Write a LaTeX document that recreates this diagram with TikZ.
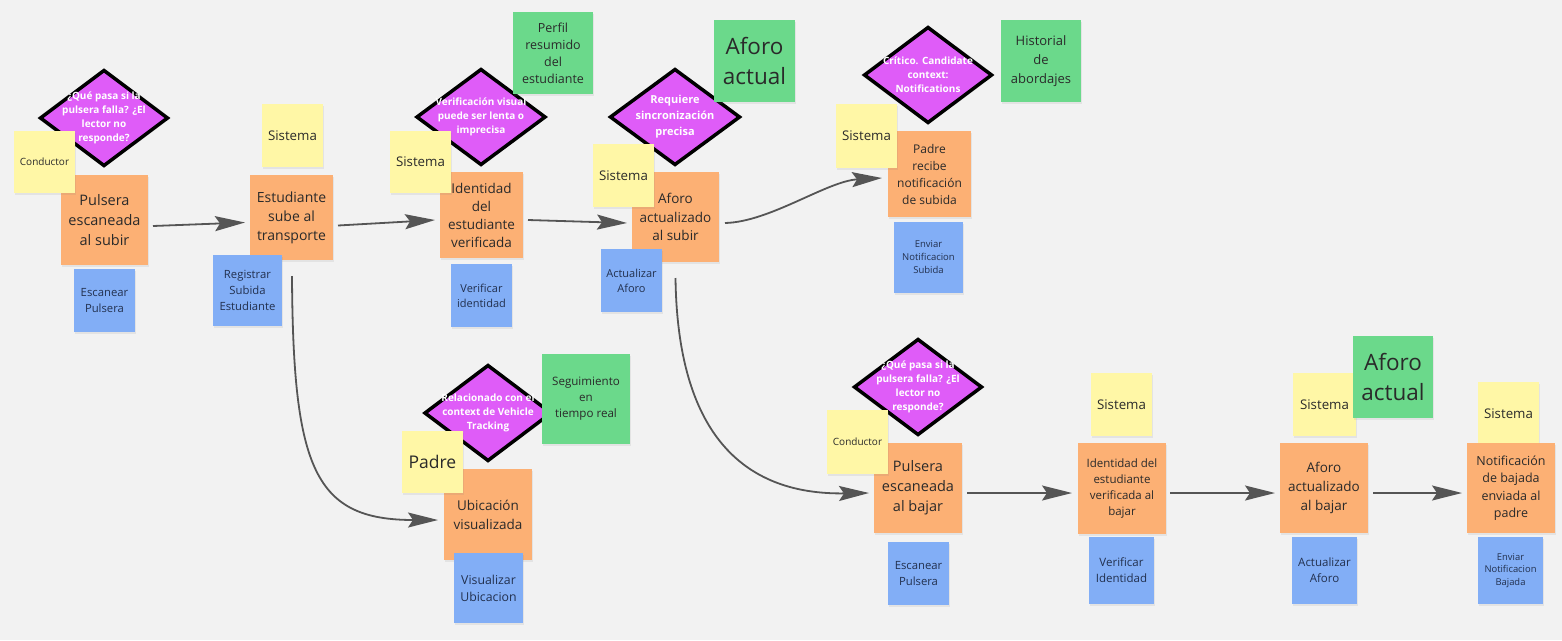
\documentclass[tikz,border=0pt]{standalone}
\usepackage{fontspec}
\setmainfont{Open Sans}
\usetikzlibrary{arrows.meta,shapes.geometric,shadows,calc}
\definecolor{bgc}{HTML}{F2F2F2}
\definecolor{orn}{HTML}{FCB074}
\definecolor{yel}{HTML}{FFF7A6}
\definecolor{blu}{HTML}{82AEF6}
\definecolor{grn}{HTML}{6BD98B}
\definecolor{mag}{HTML}{DF5CF8}
\definecolor{txt}{HTML}{2A2A2A}
\definecolor{btxt}{HTML}{22304E}
\definecolor{arr}{HTML}{555555}
\tikzset{
  note/.style={rectangle, inner sep=1pt, outer sep=0pt, align=center,
    drop shadow={shadow xshift=0.6pt, shadow yshift=-1.6pt, opacity=0.13}},
  org/.style={note, fill=orn, text=txt},
  yl/.style={note, fill=yel, text=txt},
  bl/.style={note, fill=blu, text=btxt},
  gr/.style={note, fill=grn, text=txt},
  sz/.style 2 args={minimum width=#1, minimum height=#2},
  fs/.style 2 args={font=\fontsize{#1}{#2}\selectfont},
  dia/.style={diamond, draw=black, line width=3.5pt, fill=mag, inner sep=0pt,
    outer sep=0pt, minimum width=127, minimum height=95},
  dtext/.style={text=white, align=center, inner sep=0pt,
    font=\bfseries\fontsize{10}{14}\selectfont},
  conn/.style={draw=arr, line width=1.8pt,
    -{Stealth[length=30pt,width=15pt,inset=5pt]}}
}
\begin{document}
\begin{tikzpicture}[x=1pt,y=-1pt]
\path[use as bounding box, fill=bgc] (0,0) rectangle (1562,640);

% diamonds
\node[dia] (d1) at (104,118) {};
\node[dtext] (d1t) at (d1) {¿Qué pasa si la\\pulsera falla? ¿El\\lector no\\responde?};
\node[dia, minimum width=128] (d2) at (481,117) {};
\node[dtext] (d2t) at (d2) {Verificación visual\\puede ser lenta o\\imprecisa};
\node[dia, minimum width=129] (d3) at (675,117) {};
\node[dtext, font=\bfseries\fontsize{11}{16}\selectfont] (d3t) at (d3) {Requiere\\sincronización\\precisa};
\node[dia] (d4) at (928,75) {};
\node[dtext] (d4t) at (d4) {Crítico. Candidate\\context:\\Notifications};
\node[dia, minimum width=126] (d5) at (488,413) {};
\node[dtext] (d5t) at (d5) {Relacionado con el\\context de Vehicle\\Tracking};
\node[dia] (d6) at (918,387) {};
\node[dtext] (d6t) at (d6) {¿Qué pasa si la\\pulsera falla? ¿El\\lector no\\responde?};

% orange events
\node[org, sz={87}{90}, fs={14.5}{20}] (p1) at (104.5,220) {Pulsera\\escaneada\\al subir};
\node[org, sz={83}{85}, fs={14}{19}] (e1) at (291.5,217.5) {Estudiante\\sube al\\transporte};
\node[org, sz={83}{86}, fs={13.5}{18}] (id1) at (481.5,215) {Identidad\\del\\estudiante\\verificada};
\node[org, sz={87}{90}, fs={13.5}{18.5}] (af1) at (675.5,217) {Aforo\\actualizado\\al subir};
\node[org, sz={83}{86}, fs={12}{17}] (pr1) at (929.5,174) {Padre\\recibe\\notificación\\de subida};
\node[org, sz={88}{91}, fs={13.5}{19}] (ub) at (488,514.5) {Ubicación\\visualizada};
\node[org, sz={88}{90}, fs={14.5}{20}] (p2) at (918,488) {Pulsera\\escaneada\\al bajar};
\node[org, sz={88}{91}, fs={11.5}{16}] (id2) at (1122,488.5) {Identidad del\\estudiante\\verificada al\\bajar};
\node[org, sz={88}{90}, fs={13.5}{19}] (af2) at (1324,488) {Aforo\\actualizado\\al bajar};
\node[yl, sz={61}{63}, fs={13.3}{17}] (y10) at (1508.5,413.5) {Sistema};
\node[org, sz={88}{90}, fs={12.5}{17.5}] (nt2) at (1511,488) {Notificación\\de bajada\\enviada al\\padre};

% yellow actors
\node[yl, sz={61}{62}, fs={10}{13}] (y1) at (44.5,162) {Conductor};
\node[yl, sz={61}{63}, fs={13.3}{17}] (y2) at (292.5,135.5) {Sistema};
\node[yl, sz={61}{62}, fs={13.3}{17}] (y3) at (420.5,162) {Sistema};
\node[yl, sz={61}{63}, fs={13.3}{17}] (y4) at (623.5,175.5) {Sistema};
\node[yl, sz={61}{64}, fs={13.3}{17}] (y5) at (866.5,136) {Sistema};
\node[yl, sz={61}{62}, fs={17.5}{22}] (y6) at (432.5,462) {Padre};
\node[yl, sz={61}{64}, fs={10}{13}] (y7) at (857.5,442) {Conductor};
\node[yl, sz={61}{63}, fs={13.3}{17}] (y8) at (1121.5,404.5) {Sistema};
\node[yl, sz={63}{63}, fs={13.3}{17}] (y9) at (1324.5,404.5) {Sistema};

% blue commands
\node[bl, sz={61}{63}, fs={11.3}{16}] (b1) at (104.5,300.5) {Escanear\\Pulsera};
\node[bl, sz={69}{71}, fs={11.3}{16}] (b2) at (247.5,290.5) {Registrar\\Subida\\Estudiante};
\node[bl, sz={61}{63}, fs={11}{15}] (b3) at (481.5,295.5) {Verificar\\identidad};
\node[bl, sz={61}{63}, fs={11}{15}] (b4) at (631.5,280.5) {Actualizar\\Aforo};
\node[bl, sz={69}{71}, fs={9.5}{13}] (b5) at (928.5,257.5) {Enviar\\Notificacion\\Subida};
\node[bl, sz={69}{70}, fs={12.3}{17}] (b6) at (488.5,588) {Visualizar\\Ubicacion};
\node[bl, sz={61}{63}, fs={11.3}{16}] (b7) at (918.5,573.5) {Escanear\\Pulsera};
\node[bl, sz={65}{67}, fs={11.5}{16}] (b8) at (1121.5,570.5) {Verificar\\Identidad};
\node[bl, sz={65}{67}, fs={11.5}{16}] (b9) at (1324.5,570.5) {Actualizar\\Aforo};
\node[bl, sz={65}{67}, fs={9.4}{12.5}] (b10) at (1510.5,570.5) {Enviar\\Notificacion\\Bajada};

% green read models
\node[gr, sz={80}{82}, fs={12.5}{17}] (g1) at (553,53) {Perfil\\resumido\\del\\estudiante};
\node[gr, sz={81}{82}, fs={22.5}{30}] (g2) at (754.5,61) {Aforo\\actual};
\node[gr, sz={80}{82}, fs={13}{19}] (g3) at (1041,61) {Historial\\de\\abordajes};
\node[gr, sz={88}{90}, fs={11.6}{16}] (g4) at (586,399) {Seguimiento\\en\\tiempo real};
\node[gr, sz={80}{82}, fs={22.5}{30}] (g5) at (1393,377) {Aforo\\actual};

% connectors
\draw[conn] ($(p1.east)+(5,6)$) -- ($(e1.west)+(-5,5)$);
\draw[conn] ($(e1.east)+(5,8)$) -- ($(id1.west)+(-5,5)$);
\draw[conn] ($(id1.east)+(5,5)$) -- ($(af1.west)+(-5,6)$);
\draw[conn] ($(af1.east)+(6,6)$) .. controls +(45,-1) and +(-55,3) .. ($(pr1.west)+(-6,4)$);
\draw[conn] ($(e1.south)+(0.5,16)$) .. controls +(1,194) and +(-123,0) .. ($(ub.west)+(-6,5.5)$);
\draw[conn] ($(af1.south)+(0,16)$) .. controls +(2,152) and +(-129,2) .. ($(p2.west)+(-5,5)$);
\draw[conn] ($(p2.east)+(5,5)$) -- ($(id2.west)+(-6,4.5)$);
\draw[conn] ($(id2.east)+(4,4.5)$) -- ($(af2.west)+(-5,5)$);
\draw[conn] ($(af2.east)+(5,5)$) -- ($(nt2.west)+(-5,5)$);
\end{tikzpicture}
\end{document}
